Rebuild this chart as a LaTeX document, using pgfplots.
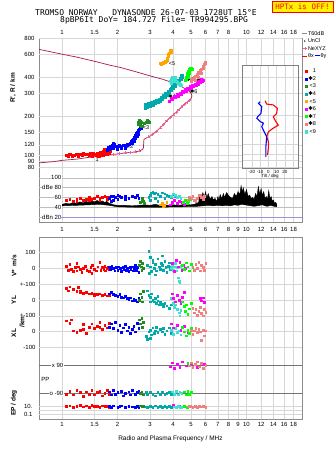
\documentclass[border=0pt]{standalone}
\usepackage{pgfplots}
\pgfplotsset{compat=1.18}
\usepackage{fontspec}
\setmainfont{Liberation Sans}
\setmonofont{DejaVu Sans Mono}
\newfontfamily\djv{DejaVu Sans}
\definecolor{c1}{RGB}{255,0,0}
\definecolor{c2}{RGB}{0,0,255}
\definecolor{c3}{RGB}{34,139,34}
\definecolor{c4}{RGB}{0,170,170}
\definecolor{c5}{RGB}{255,165,0}
\definecolor{c6}{RGB}{255,0,255}
\definecolor{c7}{RGB}{0,255,0}
\definecolor{c8}{RGB}{240,128,128}
\definecolor{c9}{RGB}{64,224,208}
\definecolor{prof}{RGB}{170,25,75}
\definecolor{nexyz}{RGB}{230,100,150}
\definecolor{framec}{RGB}{140,140,140}
\definecolor{gridc}{RGB}{215,215,215}
\definecolor{dbn}{RGB}{150,150,225}
\pgfplotsset{
  base/.style={scale only axis, width=263pt,
    axis line style={draw=framec, line width=0.6pt}, major tick length=0pt, minor tick length=0pt,
    tick style={draw=none}, minor tick style={draw=none},
    grid style={draw=gridc, line width=0.45pt},
    tick label style={font=\fontsize{6}{7}\selectfont, text=black},
    /pgf/number format/assume math mode=true},
  fq/.style={base, xmin=0.75, xmax=20},
  ov/.style={fq, axis line style={draw=none}, xtick=\empty},
  pt/.style={only marks, mark=square*, mark size=0.85pt, color=#1, forget plot},
  tr/.style={only marks, mark=square*, mark size=1.1pt, color=#1, forget plot},
  lgline/.style={legend image code/.code={\draw[##1] (0pt,0pt) -- (5pt,0pt);}},
  lgmark/.style={legend image code/.code={\draw[##1] plot coordinates {(4pt,0pt)};}},
  lgdot/.style={legend image code/.code={\fill[black] (2.5pt,0pt) circle (0.45pt);}},
  lgnexyz/.style={legend image code/.code={\draw[nexyz,line width=0.5pt] (0pt,0pt) -- (5pt,0pt) (2.5pt,-1.3pt) -- (2.5pt,1.3pt);}},
}
\newcommand{\st}{{\djv ✱}}
\newcommand{\lb}[1]{\makebox[8pt][r]{#1}}
\begin{document}
\begin{tikzpicture}
% ---------- titles ----------
\node[anchor=west, font=\fontsize{8}{8}\selectfont\ttfamily, inner sep=0pt] at (35pt,438.5pt) {TROMSO NORWAY\ \ \ DYNASONDE 26-07-03 1728UT 15°E};
\node[anchor=west, font=\fontsize{8}{8}\selectfont\ttfamily, inner sep=0pt] at (60pt,430.7pt) {8pBP6It DoY= 184.727 File= TR994295.BPG};
\node[draw=red, fill=yellow, text=red, line width=0.8pt, font=\fontsize{7.5}{8}\selectfont\ttfamily, minimum width=61pt, minimum height=11pt, inner sep=1pt] at (302.5pt,444.3pt) {HPTx is OFF!};
% ---------- upper frame ----------
\begin{axis}[xmode=log, fq, at={(39pt,229pt)}, anchor=south west, height=184pt, ymin=0, ymax=1, ytick=\empty,
  xtick={1,1.5,2,3,4,5,6,7,8,9,10,12,14,16,18},
  xticklabels={1,1.5,2,3,4,5,6,7,8,9,10,12,14,16,18}, xmajorgrids, xticklabel style={yshift=-1.5pt}]
\addplot[draw=none, forget plot] coordinates {(1,0.5)};
\end{axis}
\begin{axis}[xmode=log, fq, at={(39pt,229pt)}, anchor=south west, height=184pt, ymin=0, ymax=1, axis y line=none, axis x line*=top,
  xtick={1,1.5,2,3,4,5,6,7,8,10,12,14,16,18},
  xticklabels={1,1.5,2,3,4,5,6,7,8,10,12,14,16,18}]
\addplot[draw=none, forget plot] coordinates {(1,0.5)};
\end{axis}
% ---------- height panel ----------
\begin{axis}[xmode=log, ymode=log, ov, at={(39pt,279pt)}, anchor=south west, height=134pt, ymin=74, ymax=800,
  ytick={80,90,100,120,150,200,300,400,600,800}, yticklabels={80,90,100,120,150,200,300,400,600,800},
  ymajorgrids, yticklabel style={xshift=-1pt},
  legend style={at={(1.0,1.057)}, anchor=north west, draw=none, fill=none, inner sep=0pt, outer sep=0pt,
    font=\fontsize{5.5}{6}\selectfont, row sep=1.25pt,
    nodes={inner sep=0.4pt, text height=4.3pt, text depth=1.2pt}}, legend cell align=left]
\addlegendimage{lgline, black!45, line width=0.6pt}\addlegendentry{T60dB}
\addlegendimage{lgdot}\addlegendentry{UnCl}
\addlegendimage{lgnexyz}\addlegendentry{NeXYZ}
\addlegendimage{lgline, red, line width=0.6pt}\addlegendentry{θx\,\textcolor{blue}{\rule[1.7pt]{5pt}{0.6pt}}\,θy}
\addlegendimage{empty legend}\addlegendentry{}
\addlegendimage{lgmark, only marks, mark=square*, mark size=1.1pt, c1}\addlegendentry{\lb{1}}
\addlegendimage{lgmark, only marks, mark=square*, mark size=1.1pt, c2}\addlegendentry{\lb{\st2}}
\addlegendimage{lgmark, only marks, mark=square*, mark size=1.1pt, c3}\addlegendentry{\lb{<3}}
\addlegendimage{lgmark, only marks, mark=square*, mark size=1.1pt, c4}\addlegendentry{\lb{\st4}}
\addlegendimage{lgmark, only marks, mark=square*, mark size=1.1pt, c5}\addlegendentry{\lb{<5}}
\addlegendimage{lgmark, only marks, mark=square*, mark size=1.1pt, c6}\addlegendentry{\lb{\st6}}
\addlegendimage{lgmark, only marks, mark=square*, mark size=1.1pt, c7}\addlegendentry{\lb{\st7}}
\addlegendimage{lgmark, only marks, mark=square*, mark size=1.1pt, c8}\addlegendentry{\lb{\st8}}
\addlegendimage{lgmark, only marks, mark=square*, mark size=1.1pt, c9}\addlegendentry{\lb{<9}}
% profile
\addplot[prof, line width=0.7pt, forget plot] coordinates {
(0.75,87)(0.9,89)(1.0,91)(1.2,93)(1.4,96)(1.6,98)(1.8,100)(2.0,102)(2.2,104)(2.4,105)(2.6,107)(2.72,110)(2.76,113)(2.77,122)(2.78,132)(2.85,135)(2.95,138)(3.1,145)(3.25,152)(3.4,162)(3.55,172)(3.7,184)(3.85,195)(4.0,204)(4.15,214)(4.3,224)(4.45,235)(4.6,245)(4.75,255)(4.9,264)(5.0,272)(5.06,285)(5.02,298)(4.9,310)(4.7,322)(4.4,340)(4.1,356)(3.86,367)(3.5,385)(3.14,401)(2.8,420)(2.5,440)(2.07,474)(1.8,495)(1.54,524)(1.2,570)(1.0,600)(0.85,630)(0.75,654)};
\addplot[nexyz, line width=0.5pt, mark=+, mark size=1.5pt, forget plot] coordinates {
(2.95,138)(3.1,145)(3.25,152)(3.4,162)(3.55,172)(3.7,184)(3.85,195)(4.0,204)(4.15,214)(4.3,224)(4.45,235)(4.6,245)(4.75,255)(4.9,264)};
\addplot[nexyz, only marks, mark=+, mark size=1.5pt, forget plot] coordinates {
(1.9,101)(2.05,103)(2.2,104)(2.35,105)(2.5,106)(2.62,108)};
% traces
\addplot[tr=c1] coordinates {(1.06,100)(1.08,98)(1.10,101)(1.13,99)(1.16,100)(1.2,102)(1.22,99)(1.25,101)(1.28,100)(1.3,103)(1.33,101)(1.36,102)(1.4,100)(1.42,103)(1.45,101)(1.48,104)(1.5,102)(1.53,100)(1.56,104)(1.6,102)(1.62,105)(1.65,103)(1.68,106)(1.7,104)(1.72,109)(1.75,105)(1.78,110)(1.8,104)(1.82,107)(1.76,102)(1.66,100)(1.58,99)(1.46,98)(1.7,111)(1.8,112)};
\addplot[tr=c2] coordinates {(1.76,110)(1.78,114)(1.8,112)(1.83,116)(1.85,113)(1.88,118)(1.9,124)(1.92,120)(1.95,117)(2.0,116)(2.05,118)(2.1,117)(2.15,119)(2.2,118)(2.25,120)(2.3,121)(2.33,124)(2.36,127)(2.4,130)(2.43,133)(2.46,137)(2.5,142)(2.53,146)(2.56,150)(2.58,155)(2.6,152)(2.62,158)(2.65,162)(2.68,160)(2.5,135)(2.45,128)(2.4,124)(2.55,140)(2.6,145)(1.9,114)(2.0,112)(2.1,113)(2.2,114)};
\addplot[tr=c3] coordinates {(2.6,180)(2.62,186)(2.65,183)(2.68,178)(2.6,172)(2.65,170)(2.7,168)(2.8,176)(2.85,180)(2.9,185)(2.93,182)(2.95,178)};
\addplot[tr=c4] coordinates {(2.83,232)(2.9,236)(3.0,240)(3.1,245)(3.2,250)(3.3,256)(3.4,262)(3.5,270)(3.6,278)(3.7,288)(3.8,300)(3.9,315)(4.0,328)(4.1,342)(4.2,356)(4.3,370)(4.4,385)(4.5,398)
(2.84,246)(2.95,250)(3.05,254)(3.15,258)(3.25,264)(3.35,270)(3.45,278)(3.55,288)(3.65,298)(3.75,310)(3.85,324)(3.95,338)(4.05,352)(4.15,366)(4.25,380)(4.35,394)(4.45,410)
(2.87,240)(3.02,247)(3.17,252)(3.32,262)(3.47,272)(3.62,286)(3.77,304)(3.92,326)(4.07,346)(4.22,368)(4.37,390)};
\addplot[tr=c9] coordinates {(3.85,370)(3.9,385)(3.95,395)(4.0,400)(4.05,390)(4.1,380)(4.15,372)(4.2,365)(4.25,360)(4.3,355)(4.35,350)(4.0,375)(4.1,395)(3.9,360)(4.4,348)};
\addplot[tr=c5] coordinates {(3.4,508)(3.45,505)(3.5,512)(3.55,515)(3.6,520)(3.65,530)(3.7,545)(3.72,560)(3.75,580)(3.78,600)(3.8,615)(3.85,630)(3.88,640)(3.9,625)};
\addplot[tr=c6] coordinates {(3.8,262)(3.95,270)(4.1,278)(4.25,287)(4.4,296)(4.55,305)(4.7,313)(4.85,322)(5.0,330)(5.15,338)(5.3,346)(5.45,355)(5.6,363)(5.75,372)(5.85,380)(3.9,275)(4.05,284)(4.2,292)(4.35,302)(4.5,311)(4.65,320)(4.8,328)(4.95,338)(5.1,346)(5.25,354)(5.4,362)(5.55,371)(5.7,382)};
\addplot[tr=c7] coordinates {(4.65,380)(4.7,395)(4.75,410)(4.8,425)(4.85,440)(4.9,455)(4.95,465)(5.0,470)(5.05,460)(4.9,430)(4.8,400)(4.7,385)};
\addplot[tr=c8] coordinates {(5.0,375)(5.1,385)(5.2,395)(5.3,405)(5.4,418)(5.5,432)(5.6,448)(5.7,462)(5.8,480)(5.9,500)(5.95,515)(5.25,380)(5.45,400)(5.65,430)(5.85,465)};
% labels
\begin{scope}[every node/.style={font=\fontsize{5.5}{6}\selectfont, inner sep=0.3pt, text=black}]
\node at (axis cs:1.55,93) {1};
\node at (axis cs:2.32,116) {\st2};
\node at (axis cs:2.85,164) {<3};
\node at (axis cs:3.94,281) {\st4};
\node at (axis cs:3.95,505) {<5};
\node at (axis cs:5.17,307) {\st6};
\node at (axis cs:4.27,367) {<9};
\node at (axis cs:4.96,385) {\st7};
\node at (axis cs:5.63,375) {\st8};
\end{scope}
\end{axis}
% ---------- tilt inset ----------
\begin{axis}[ymode=log, base, at={(242pt,283pt)}, anchor=south west, width=56pt, height=103pt, xmin=-32, xmax=36,
  ymin=78.6, ymax=494, axis background/.style={fill=white},
  xtick={-20,-10,0,10,20,30}, xticklabels={-20,-10,0,10,20,},
  ytick={80,90,100,120,150,200,300,400}, yticklabels={}, grid=major,
  axis line style={draw=black!50, line width=0.6pt},
  xticklabel style={font=\fontsize{4.5}{5}\selectfont, yshift=1.5pt},
  xlabel={Tilt / deg}, xlabel style={font=\fontsize{4.5}{5}\selectfont, yshift=6pt}]
\addplot[c1, line width=1.1pt, forget plot] coordinates {(-4,261)(-2,246)(6,242)(11,228)(10,208)(6,196)(8,185)(12,169)(6,160)(0,150)(-2,137)(0,126)(0,112)(-1,99)};
\addplot[c2, line width=1.1pt, forget plot] coordinates {(-10,256)(-12,249)(-8,235)(-9,208)(-13,196)(-14,191)(-10,180)(-6,175)(-8,164)(-5,150)(-2,137)(-3,115)(-3,96)};
\end{axis}
% ---------- dBe panel ----------
\begin{axis}[xmode=log, ov, at={(39pt,229pt)}, anchor=south west, height=50pt, ymin=10, ymax=112,
  ytick={20,40,60,80,100}, yticklabels={dBn 20,40,60,dBe 80,100}, ymajorgrids,
  grid style={draw=black!25, line width=0.5pt},
  yticklabel style={xshift=23pt, fill=white, inner sep=0.6pt}]
\addplot[dbn, line width=0.8pt, forget plot] coordinates {(0.98,20)(20,20)};
\addplot[black, fill=black, line width=0.4pt, forget plot] coordinates {
(1.0,46)(1.05,48)(1.1,47)(1.15,50)(1.2,48)(1.25,51)(1.3,49)(1.35,52)(1.4,50)(1.45,53)(1.5,51)(1.55,54)(1.6,51)(1.65,53)(1.7,50)(1.75,52)(1.8,48)(1.85,47)(1.9,45)(2.0,44)(2.2,44)(2.4,43)(2.6,44)(2.8,45)(3.0,44)(3.2,46)(3.4,44)(3.6,45)(3.8,44)(4.0,45)(4.3,44)(4.6,46)(5.0,45)(5.3,47)(5.5,50)(5.6,64)(5.7,55)(5.8,70)(5.9,60)(6.0,72)(6.1,58)(6.2,68)(6.35,56)(6.5,62)(6.6,55)(6.75,58)(6.9,52)(7.0,62)(7.1,55)(7.2,66)(7.35,58)(7.5,68)(7.6,60)(7.8,70)(8.0,64)(8.2,60)(8.4,58)(8.6,68)(8.8,62)(9.0,72)(9.2,66)(9.35,84)(9.5,70)(9.6,80)(9.8,66)(10.0,76)(10.2,62)(10.4,65)(10.6,58)(10.8,60)(11.0,56)(11.2,68)(11.4,62)(11.6,82)(11.8,66)(12.0,78)(12.2,64)(12.4,72)(12.6,58)(12.8,62)(13.0,56)(13.2,74)(13.4,58)(13.6,62)(13.8,52)(14.0,55)(14.2,48)(14.4,50)(14.6,46)
(14.6,41)(14.2,42)(13.8,43)(13.4,44)(13.0,42)(12.6,43)(12.2,45)(11.8,44)(11.4,43)(11.0,42)(10.6,43)(10.2,44)(9.8,45)(9.4,46)(9.0,44)(8.6,45)(8.2,43)(7.8,44)(7.4,43)(7.0,44)(6.6,43)(6.2,44)(5.8,43)(5.4,42)(5.0,42)(4.5,41)(4.0,41)(3.5,40)(3.0,40)(2.5,40)(2.0,41)(1.8,44)(1.6,46)(1.4,45)(1.2,44)(1.0,43)};
\addplot[pt=c1] coordinates {(1.05,55)(1.1,57)(1.15,52)(1.2,56)(1.25,58)(1.3,54)(1.35,57)(1.4,60)(1.45,56)(1.5,59)(1.55,62)(1.6,58)(1.65,60)(1.7,63)(1.75,57)(1.8,61)(1.2,53)(1.4,55)(1.6,55)(1.75,60)};
\addplot[pt=c2] coordinates {(1.8,58)(1.85,62)(1.9,63)(1.95,60)(2.0,64)(2.05,62)(2.1,60)(2.2,63)(2.3,58)(2.4,62)(2.5,60)(2.55,65)(2.6,58)(1.9,55)(2.0,57)(2.2,56)(1.85,52)};
\addplot[pt=c3] coordinates {(2.65,50)(2.7,55)(2.75,52)(2.8,48)(2.72,58)};
\addplot[pt=c4] coordinates {(2.95,60)(3.0,65)(3.05,70)(3.1,72)(3.15,68)(3.2,70)(3.3,66)(3.4,62)(3.5,70)(3.6,68)(3.7,65)(3.8,62)(3.9,60)(4.0,66)(4.1,62)(3.0,55)(3.2,58)(3.3,52)(3.6,58)};
\addplot[pt=c5] coordinates {(3.4,45)(3.5,48)(3.6,44)(3.7,50)(3.55,42)};
\addplot[pt=c6] coordinates {(3.85,45)(3.95,50)(4.05,55)(4.2,48)(4.3,52)(4.4,58)(4.5,50)(4.6,46)};
\addplot[pt=c9] coordinates {(3.9,62)(4.0,68)(4.1,65)(4.2,60)(4.3,63)(4.4,58)};
\addplot[pt=c7] coordinates {(4.55,50)(4.65,55)(4.75,48)(4.85,52)(4.95,56)};
\addplot[pt=c8] coordinates {(4.8,55)(4.9,60)(5.0,58)(5.1,62)(5.2,55)(5.3,52)(5.4,58)(5.5,64)(5.6,65)(5.7,60)(5.8,56)(5.9,62)};
\end{axis}
% ---------- lower frame ----------
\begin{axis}[xmode=log, fq, at={(39pt,32pt)}, anchor=south west, height=182pt, ymin=0, ymax=1, ytick=\empty,
  xtick={1,1.5,2,3,4,5,6,7,8,9,10,12,14,16,18},
  xticklabels={1,1.5,2,3,4,5,6,7,8,9,10,12,14,16,18}, xmajorgrids,
  xlabel={Radio and Plasma Frequency / MHz}, xlabel style={font=\fontsize{6.5}{7}\selectfont, yshift=-2pt}]
\addplot[draw=none, forget plot] coordinates {(1,0.5)};
\end{axis}
% V*
\begin{axis}[xmode=log, ov, at={(39pt,32pt)}, anchor=south west, height=182pt, ymin=-954, ymax=198,
  ytick={0,100}, yticklabels={0,100}, ymajorgrids]
\addplot[pt=c1] coordinates {(1.05,15)(1.08,-10)(1.1,25)(1.12,-5)(1.15,-20)(1.18,5)(1.2,-15)(1.22,10)(1.25,-5)(1.28,-25)(1.3,0)(1.33,15)(1.36,-10)(1.4,-20)(1.43,5)(1.46,20)(1.5,-5)(1.53,-15)(1.56,10)(1.6,40)(1.62,-10)(1.65,5)(1.68,-5)(1.7,15)(1.72,-15)(1.75,0)(1.78,10)(1.8,-5)(1.2,30)(1.45,-30)};
\addplot[pt=c2] coordinates {(1.8,10)(1.83,-5)(1.86,15)(1.9,0)(1.93,-15)(1.96,5)(2.0,-10)(2.03,10)(2.06,0)(2.1,-20)(2.13,5)(2.16,-5)(2.2,15)(2.23,-10)(2.26,0)(2.3,-20)(2.33,5)(2.36,-5)(2.4,10)(2.43,-15)(2.46,0)(2.5,20)(2.53,-10)(2.56,5)(2.6,-25)};
\addplot[pt=c3] coordinates {(2.62,20)(2.65,45)(2.68,10)(2.7,-10)(2.72,30)(2.75,0)};
\addplot[pt=c4] coordinates {(2.9,20)(2.95,110)(2.96,-30)(3.0,10)(3.05,-20)(3.1,40)(3.15,0)(3.2,25)(3.25,-15)(3.3,60)(3.35,10)(3.4,-5)(3.45,30)(3.5,20)(3.55,-10)(3.6,45)(3.65,5)(3.7,-25)(3.75,15)(3.8,35)(3.85,-5)(3.9,10)(3.0,70)(3.2,-40)(3.5,80)(3.1,55)};
\addplot[pt=c9] coordinates {(3.9,0)(3.95,20)(4.0,-10)(4.05,10)(4.1,30)(4.15,-15)(4.2,5)(4.25,-60)(4.3,-80)(4.35,-95)(4.4,15)(4.45,-5)};
\addplot[pt=c6] coordinates {(3.95,30)(4.05,-20)(4.15,50)(4.25,10)(4.35,40)(4.45,-10)(4.55,20)(4.65,0)};
\addplot[pt=c7] coordinates {(4.5,20)(4.6,-5)(4.7,35)(4.8,10)(4.9,-15)(5.0,25)(5.1,5)};
\addplot[pt=c8] coordinates {(5.1,10)(5.2,-10)(5.3,25)(5.4,0)(5.5,40)(5.6,-15)(5.7,20)(5.8,5)(5.9,-10)(6.0,30)};
\end{axis}
% YL
\begin{axis}[xmode=log, ov, at={(39pt,32pt)}, anchor=south west, height=182pt, ymin=-753, ymax=399,
  ytick={-100,0,100}, yticklabels={+-100,0,+-100}, ymajorgrids]
\addplot[pt=c1] coordinates {(1.05,75)(1.08,60)(1.1,85)(1.15,70)(1.2,55)(1.22,80)(1.25,60)(1.3,45)(1.35,50)(1.4,40)(1.45,42)(1.5,38)(1.55,35)(1.6,40)(1.65,30)(1.7,35)(1.75,28)(1.8,32)(1.25,48)(1.5,30)};
\addplot[pt=c2] coordinates {(1.8,40)(1.85,50)(1.9,35)(1.95,30)(2.0,25)(2.05,35)(2.1,20)(2.15,15)(2.2,25)(2.25,10)(2.3,5)(2.35,15)(2.4,-5)(2.45,5)(2.5,0)(2.55,-10)(2.6,10)};
\addplot[pt=c3] coordinates {(2.62,0)(2.65,40)(2.7,20)(2.72,-10)(2.75,55)};
\addplot[pt=c4] coordinates {(2.9,60)(2.95,30)(3.0,20)(3.05,40)(3.1,0)(3.15,-10)(3.2,10)(3.25,-20)(3.3,-5)(3.35,-30)(3.4,-15)(3.5,-25)(3.55,-40)(3.6,-20)(3.7,-35)(3.8,-50)(3.9,-30)(3.0,-10)(3.3,25)};
\addplot[pt=c9] coordinates {(3.9,10)(4.0,-20)(4.05,-45)(4.1,-30)(4.2,-60)(4.3,-80)(4.35,-100)(4.4,-65)};
\addplot[pt=c6] coordinates {(3.95,40)(4.0,10)(4.1,-10)(4.2,30)(4.3,0)(4.4,-20)(4.5,20)(4.6,50)(5.6,10)(5.7,-5)(5.8,15)(5.9,-15)};
\addplot[pt=c7] coordinates {(4.5,-10)(4.6,-40)(4.65,-70)(4.7,-30)(4.8,-90)(4.9,-55)(5.0,-20)};
\addplot[pt=c8] coordinates {(5.1,-50)(5.2,-80)(5.3,-60)(5.4,-95)(5.5,-70)(5.6,-45)(5.7,-85)(5.8,-100)(5.9,-60)(6.0,-75)};
\end{axis}
% XL
\begin{axis}[xmode=log, ov, at={(39pt,32pt)}, anchor=south west, height=182pt, ymin=-553, ymax=599,
  ytick={-100,0}, yticklabels={-100,0}, ymajorgrids]
\addplot[pt=c1] coordinates {(1.05,70)(1.1,55)(1.12,75)(1.15,5)(1.2,-5)(1.25,10)(1.3,45)(1.35,-10)(1.4,30)(1.45,50)(1.5,20)(1.55,35)(1.6,60)(1.65,15)(1.7,40)(1.75,25)(1.8,55)(1.3,15)(1.6,30)};
\addplot[pt=c2] coordinates {(1.8,30)(1.85,50)(1.9,20)(1.95,60)(2.0,10)(2.05,40)(2.1,-5)(2.15,25)(2.2,45)(2.25,5)(2.3,30)(2.35,-10)(2.4,15)(2.45,35)(2.5,0)(2.55,55)(2.6,20)};
\addplot[pt=c3] coordinates {(2.62,75)(2.65,50)(2.7,85)(2.72,30)(2.75,60)};
\addplot[pt=c4] coordinates {(2.85,-30)(2.9,-50)(2.95,0)(3.0,10)(3.05,-20)(3.1,25)(3.15,-10)(3.2,5)(3.25,30)(3.3,-5)(3.4,15)(3.5,0)(3.55,20)(3.6,-15)(3.7,5)(3.8,25)(3.9,-10)(3.0,-40)};
\addplot[pt=c9] coordinates {(3.9,10)(4.0,-15)(4.1,20)(4.2,-5)(4.3,5)(4.4,-20)};
\addplot[pt=c6] coordinates {(3.9,50)(4.0,25)(4.2,40)(4.4,10)(4.6,35)(4.8,-5)(5.0,15)};
\addplot[pt=c7] coordinates {(4.5,30)(4.6,0)(4.7,-25)(4.8,10)(4.9,-10)(5.0,20)};
\addplot[pt=c8] coordinates {(5.0,10)(5.1,-15)(5.2,5)(5.3,20)(5.4,-5)(5.5,15)(5.6,0)(5.7,-55)(5.8,10)(5.9,-25)(6.0,5)};
\end{axis}
% PP
\begin{axis}[xmode=log, ov, at={(39pt,32pt)}, anchor=south west, height=182pt, ymin=-254, ymax=905,
  ytick={-90,90}, yticklabels={o -90,x 90}, ymajorgrids, grid style={draw=black!55, line width=0.6pt},
  yticklabel style={xshift=25pt, fill=white, inner sep=0.6pt}]
\addplot[pt=c1] coordinates {(1.05,-95)(1.1,-75)(1.15,-100)(1.2,-70)(1.25,-85)(1.3,-110)(1.35,-80)(1.4,-95)(1.45,-70)(1.5,-100)(1.55,-85)(1.6,-75)(1.65,-105)(1.7,-90)(1.75,-70)(1.8,-95)};
\addplot[pt=c2] coordinates {(1.8,-80)(1.85,-100)(1.9,-70)(1.95,-95)(2.0,-85)(2.1,-75)(2.15,-105)(2.2,-90)(2.3,-80)(2.35,-100)(2.4,-70)(2.5,-95)(2.55,-85)(2.6,-75)};
\addplot[pt=c3] coordinates {(2.65,-90)(2.7,-80)(2.75,-100)};
\addplot[pt=c4] coordinates {(2.85,-85)(2.9,-100)(3.0,-80)(3.1,-95)(3.2,-105)(3.3,-85)(3.4,-95)(3.5,-80)(3.6,-100)(3.7,-90)(3.8,-85)(3.9,-95)};
\addplot[pt=c9] coordinates {(3.95,-80)(4.05,-95)(4.15,-75)(4.25,-100)(4.35,-85)(4.45,-90)};
\addplot[pt=c7] coordinates {(4.6,-80)(4.7,-100)(4.8,-75)(4.9,-95)(5.0,-85)(4.8,100)};
\addplot[pt=c6] coordinates {(3.85,80)(3.95,105)(4.05,70)(4.2,95)(4.35,75)(4.5,110)(4.7,85)(5.0,100)(5.4,78)(5.9,95)};
\addplot[pt=c8] coordinates {(4.9,85)(5.0,105)(5.1,75)(5.25,95)(5.4,110)(5.55,80)(5.7,100)(5.85,70)(6.0,90)};
\node[anchor=west, font=\fontsize{6}{7}\selectfont, inner sep=0pt] at (axis cs:0.77,0) {PP};
\end{axis}
% EP
\begin{axis}[xmode=log, ymode=log, ov, at={(39pt,32pt)}, anchor=south west, height=21pt, ymin=0.0058, ymax=1945,
  ytick={0.1,1,10}, yticklabels={0.1,,10.}, ymajorgrids, yticklabel style={xshift=-3pt}]
\addplot[pt=c1] coordinates {(1.05,12)(1.1,20)(1.15,8)(1.2,15)(1.25,25)(1.3,10)(1.35,18)(1.4,9)(1.45,22)(1.5,12)(1.55,16)(1.6,8)(1.65,20)(1.7,11)(1.75,14)(1.8,9)};
\addplot[pt=c2] coordinates {(1.8,15)(1.85,9)(1.9,18)(2.0,7)(2.05,12)(2.1,20)(2.2,8)(2.3,14)(2.4,10)(2.5,6)(2.55,16)(2.6,9)};
\addplot[pt=c3] coordinates {(2.65,20)(2.7,12)(2.75,15)};
\addplot[pt=c4] coordinates {(2.85,10)(2.9,6)(3.0,14)(3.1,8)(3.2,18)(3.3,7)(3.4,12)(3.5,9)(3.6,15)(3.7,6)(3.8,11)(3.9,8)(4.0,13)};
\addplot[pt=c6] coordinates {(4.0,30)(4.3,20)};
\addplot[pt=c9] coordinates {(4.05,10)(4.15,7)(4.25,14)(4.35,9)(4.45,6)};
\addplot[pt=c7] coordinates {(4.6,12)(4.75,8)(4.9,15)};
\addplot[pt=c8] coordinates {(4.8,10)(4.95,16)(5.1,9)(5.25,13)(5.4,8)(5.55,12)(5.7,10)(5.85,14)(6.0,9)};
\end{axis}
% ---------- side labels ----------
\begin{scope}[every node/.style={font=\fontsize{6.5}{7}\selectfont\bfseries, rotate=90, inner sep=0pt}]
\node at (13pt,363pt) {R', R / km};
\node at (14pt,185pt) {V*\ \ m/s};
\node at (14pt,151pt) {YL};
\node at (22pt,129pt) {/km};
\node at (14pt,118pt) {XL};
\node at (14pt,48pt) {EP / deg};
\end{scope}
\pgfresetboundingbox
\useasboundingbox (0,0) rectangle (335pt,451pt);
\end{tikzpicture}
\end{document}
